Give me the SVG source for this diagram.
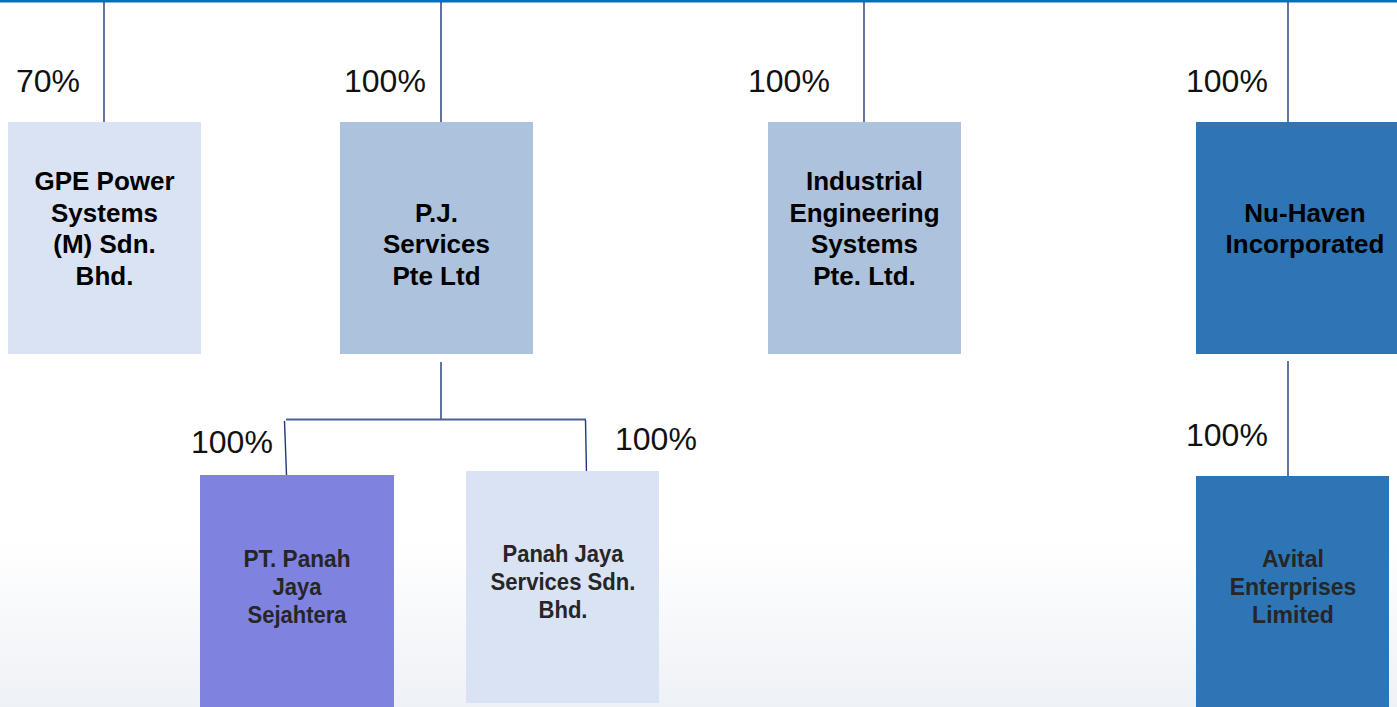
<svg xmlns="http://www.w3.org/2000/svg" width="1397" height="707" viewBox="0 0 1397 707">
  <defs>
    <linearGradient id="floor" x1="0" y1="0" x2="0" y2="1">
      <stop offset="0" stop-color="#ffffff"/>
      <stop offset="1" stop-color="#eef1f6"/>
    </linearGradient>
  </defs>
  <style>
    .pct { font-family: "Liberation Sans", Arial, sans-serif; font-size: 32px; fill: #111111; }
    .lbl { font-family: "Liberation Sans", Arial, sans-serif; font-size: 26px; font-weight: bold; fill: #000000; text-anchor: middle; }
    .sub { font-family: "Liberation Sans", Arial, sans-serif; font-size: 24px; font-weight: bold; fill: #262626; text-anchor: middle; }
    .av { font-family: "Liberation Sans", Arial, sans-serif; font-size: 23px; font-weight: bold; fill: #262626; text-anchor: middle; }
    .link { stroke: #1f3a7a; stroke-width: 1.4; fill: none; }
    .link2 { stroke: #4a6096; stroke-width: 2; fill: none; }
    .pale { fill: #dae3f3; }
    .mid { fill: #adc2dc; }
    .deep { fill: #2e75b6; }
    .violet { fill: #7f82df; }
  </style>

  <rect x="0" y="0" width="1397" height="707" fill="#ffffff"/>
  <rect x="0" y="540" width="1397" height="167" fill="url(#floor)"/>

  <!-- connectors -->
  <g id="connectors">
    <line x1="0" y1="1" x2="1397" y2="1" stroke="#0070c0" stroke-width="3"/>
    <line class="link" x1="104" y1="2" x2="104" y2="122"/>
    <line class="link" x1="441" y1="2" x2="441" y2="122"/>
    <line class="link" x1="864" y1="2" x2="864" y2="122"/>
    <line class="link" x1="1288" y1="2" x2="1288" y2="122"/>
    <line class="link" x1="441" y1="362" x2="441" y2="419"/>
    <line class="link2" x1="286" y1="419.5" x2="586" y2="419.5"/>
    <line class="link" x1="284.5" y1="421" x2="286.5" y2="475"/>
    <line class="link" x1="585.5" y1="420" x2="586.5" y2="475"/>
    <line class="link" x1="1288" y1="361" x2="1288" y2="476"/>
  </g>

  <!-- ownership percentages -->
  <g id="percentages">
    <text class="pct" x="16" y="92">70%</text>
    <text class="pct" x="344" y="92">100%</text>
    <text class="pct" x="748" y="92">100%</text>
    <text class="pct" x="1186" y="92">100%</text>
    <text class="pct" x="191" y="453">100%</text>
    <text class="pct" x="615" y="450">100%</text>
    <text class="pct" x="1186" y="446">100%</text>
  </g>

  <g id="gpe">
    <rect class="pale" x="8" y="122" width="193" height="232"/>
    <text class="lbl" x="104.5" y="190">GPE Power</text>
    <text class="lbl" x="104.5" y="222">Systems</text>
    <text class="lbl" x="104.5" y="253">(M) Sdn.</text>
    <text class="lbl" x="104.5" y="285">Bhd.</text>
  </g>

  <g id="pj-services">
    <rect class="mid" x="340" y="122" width="193" height="232"/>
    <text class="lbl" x="436.5" y="222">P.J.</text>
    <text class="lbl" x="436.5" y="253">Services</text>
    <text class="lbl" x="436.5" y="285">Pte Ltd</text>
  </g>

  <g id="industrial">
    <rect class="mid" x="768" y="122" width="193" height="232"/>
    <text class="lbl" x="864.5" y="190">Industrial</text>
    <text class="lbl" x="864.5" y="222">Engineering</text>
    <text class="lbl" x="864.5" y="253">Systems</text>
    <text class="lbl" x="864.5" y="285">Pte. Ltd.</text>
  </g>

  <g id="nu-haven">
    <rect class="deep" x="1196" y="122" width="218" height="232"/>
    <text class="lbl" x="1305" y="222">Nu-Haven</text>
    <text class="lbl" x="1305" y="253">Incorporated</text>
  </g>

  <g id="pt-panah">
    <rect class="violet" x="200" y="475" width="194" height="240"/>
    <text class="sub" x="297" y="567" textLength="107" lengthAdjust="spacingAndGlyphs">PT. Panah</text>
    <text class="sub" x="297" y="595" textLength="49" lengthAdjust="spacingAndGlyphs">Jaya</text>
    <text class="sub" x="297" y="623" textLength="99" lengthAdjust="spacingAndGlyphs">Sejahtera</text>
  </g>

  <g id="panah-jaya-services">
    <rect class="pale" x="466" y="471" width="193" height="232"/>
    <text class="sub" x="563" y="562" textLength="121" lengthAdjust="spacingAndGlyphs">Panah Jaya</text>
    <text class="sub" x="563" y="590" textLength="145" lengthAdjust="spacingAndGlyphs">Services Sdn.</text>
    <text class="sub" x="563" y="618" textLength="49" lengthAdjust="spacingAndGlyphs">Bhd.</text>
  </g>

  <g id="avital">
    <rect class="deep" x="1196" y="476" width="193" height="240"/>
    <text class="av" x="1293" y="567">Avital</text>
    <text class="av" x="1293" y="595">Enterprises</text>
    <text class="av" x="1293" y="623">Limited</text>
  </g>
</svg>
